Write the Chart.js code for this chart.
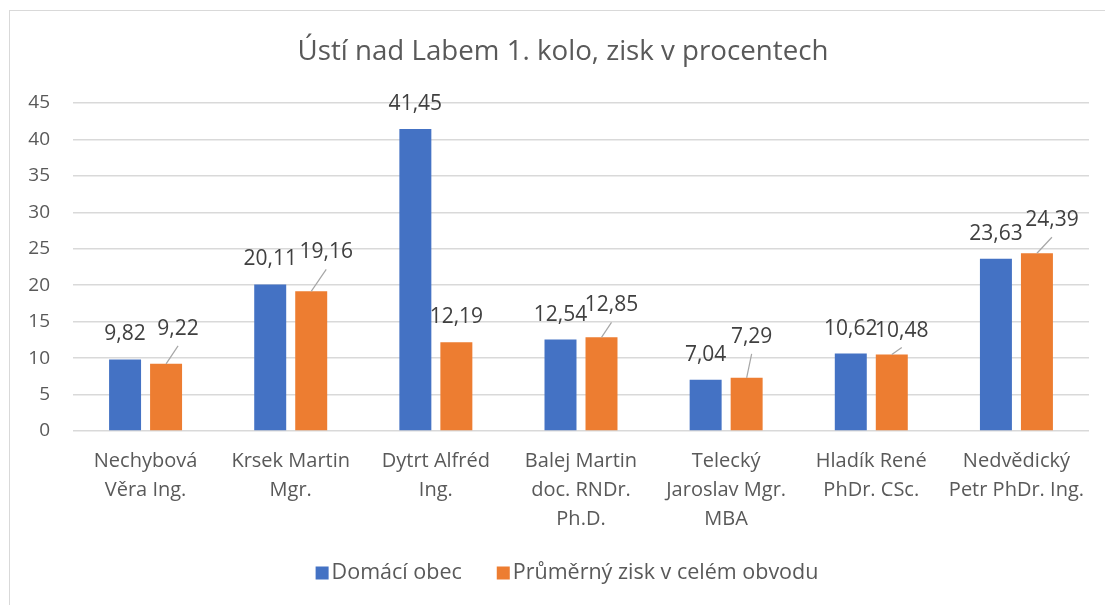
<!DOCTYPE html>
<html>
<head>
<meta charset="utf-8">
<script src="https://cdn.jsdelivr.net/npm/chart.js@4.4.1/dist/chart.umd.min.js"></script>
<style>
  html, body { margin: 0; padding: 0; background: #ffffff; overflow: hidden; }
  #wrap { position: relative; width: 1105px; height: 605px; }
  #frame { position: absolute; left: 9px; top: 10px; width: 1110px; height: 610px; border: 1px solid #D9D9D9; box-sizing: border-box; }
  canvas { position: absolute; left: 0; top: 0; }
</style>
</head>
<body>
<div id="wrap">
  <div id="frame"></div>
  <canvas id="c" width="1105" height="605"></canvas>
</div>
<script>
// ---- data ----
const categories = [
  ["Nechybová", "Věra Ing."],
  ["Krsek Martin", "Mgr."],
  ["Dytrt Alfréd", "Ing."],
  ["Balej Martin", "doc. RNDr.", "Ph.D."],
  ["Telecký", "Jaroslav Mgr.", "MBA"],
  ["Hladík René", "PhDr. CSc."],
  ["Nedvědický", "Petr PhDr. Ing."]
];
const seriesNames = ["Domácí obec", "Průměrný zisk v celém obvodu"];
const domaciObec = [9.82, 20.11, 41.45, 12.54, 7.04, 10.62, 23.63];
const prumernyZisk = [9.22, 19.16, 12.19, 12.85, 7.29, 10.48, 24.39];
const yTicks = [0, 5, 10, 15, 20, 25, 30, 35, 40, 45];
const titleText = "Ústí nad Labem 1. kolo, zisk v procentech";

// ---- styles ----
const colors = ["#4472C4", "#ED7D31"];
const FONT = "'Open Sans', 'Noto Sans', sans-serif";
// label nudges (px) for the orange series, leader line drawn when moved
const labelDx = [[0,0,0,0,0,0,0],[12,15,0,10,5,10,15]];
const labelDy = [[0,0,0,0,0,0,0],[-10,-14,0,-7,-16,1,-8]];

const fmt = v => v.toFixed(2).replace('.', ',');

const labelsPlugin = {
  id: 'dataLabels',
  afterDatasetsDraw(chart) {
    const ctx = chart.ctx;
    ctx.save();
    ctx.font = "21px " + FONT;
    ctx.textAlign = 'center';
    ctx.textBaseline = 'middle';
    chart.data.datasets.forEach((ds, di) => {
      const meta = chart.getDatasetMeta(di);
      meta.data.forEach((bar, i) => {
        const dx = labelDx[di][i], dy = labelDy[di][i];
        const cx = bar.x + dx;
        const cy = bar.y - 25 + dy;
        if (dx !== 0 || dy !== 0) {
          const y0 = Math.min(cy + 17, bar.y - 6);
          ctx.strokeStyle = '#A6A6A6';
          ctx.lineWidth = 1.2;
          ctx.beginPath();
          ctx.moveTo(cx, y0);
          ctx.lineTo(bar.x, bar.y);
          ctx.stroke();
        }
        ctx.fillStyle = '#404040';
        ctx.fillText(fmt(ds.data[i]), cx, cy);
      });
    });
    ctx.restore();
  }
};

const titleLegendPlugin = {
  id: 'titleLegend',
  afterDraw(chart) {
    const ctx = chart.ctx;
    ctx.save();
    // title
    ctx.font = "27.7px " + FONT;
    ctx.textBaseline = 'middle';
    ctx.textAlign = 'center';
    ctx.fillStyle = '#595959';
    ctx.fillText(titleText, 563, 52);
    // legend
    ctx.font = "21.5px " + FONT;
    ctx.textAlign = 'left';
    const box = 13, gapBox = 3, gapItem = 35, cy = 573;
    const widths = chart.data.datasets.map(d => ctx.measureText(d.label).width);
    const total = widths.reduce((a, w) => a + box + gapBox + w, 0) + gapItem * (widths.length - 1);
    let x = 567 - total / 2;
    chart.data.datasets.forEach((d, i) => {
      ctx.fillStyle = d.backgroundColor;
      ctx.fillRect(x, cy - box / 2, box, box);
      x += box + gapBox;
      ctx.fillStyle = '#595959';
      ctx.fillText(d.label, x, cy);
      x += widths[i] + gapItem;
    });
    ctx.restore();
  }
};

new Chart(document.getElementById('c'), {
  type: 'bar',
  data: {
    labels: categories,
    datasets: [
      { label: seriesNames[0], data: domaciObec, backgroundColor: colors[0] },
      { label: seriesNames[1], data: prumernyZisk, backgroundColor: colors[1] }
    ]
  },
  options: {
    responsive: false,
    animation: false,
    devicePixelRatio: 1,
    layout: { padding: { left: 0, right: 16, top: 103, bottom: 0 } },
    datasets: { bar: { categoryPercentage: 0.565, barPercentage: 0.78 } },
    plugins: {
      legend: { display: false },
      tooltip: { enabled: false },
      title: { display: false }
    },
    scales: {
      x: {
        grid: { display: false, drawTicks: false },
        border: { display: false },
        ticks: {
          color: '#595959',
          font: { family: FONT, size: 20, lineHeight: 1.44 },
          padding: 16,
          maxRotation: 0,
          autoSkip: false
        },
        afterFit(scale) { scale.height = 174; }
      },
      y: {
        min: 0,
        max: 45,
        afterBuildTicks(scale) { scale.ticks = yTicks.map(v => ({ value: v })); },
        grid: { color: '#D9D9D9', lineWidth: 1.5, drawTicks: false },
        border: { display: false },
        ticks: {
          color: '#595959',
          font: { family: FONT, size: 19 },
          padding: 23
        },
        afterFit(scale) { scale.width = 73; }
      }
    }
  },
  plugins: [labelsPlugin, titleLegendPlugin]
});
</script>
</body>
</html>
